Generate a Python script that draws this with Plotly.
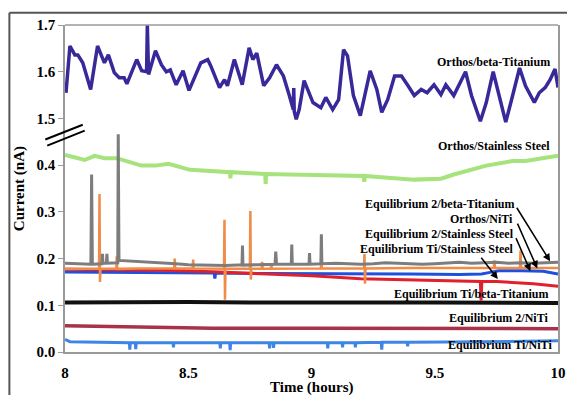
import plotly.graph_objects as go

# ---------------- data (time in hours, current in nA) ----------------
t_obt = [8.004, 8.020, 8.040, 8.052, 8.072, 8.104, 8.132, 8.160, 8.176, 8.200, 8.220, 8.240, 8.251,
         8.291, 8.311, 8.331, 8.334, 8.337, 8.339, 8.367, 8.391, 8.411, 8.427, 8.451, 8.479, 8.503,
         8.527, 8.551, 8.579, 8.591, 8.627, 8.647, 8.659, 8.687, 8.719, 8.747, 8.762, 8.778, 8.806,
         8.830, 8.858, 8.886, 8.910, 8.926, 8.928, 8.930, 8.938, 8.950, 8.970, 9.006, 9.038, 9.058,
         9.086, 9.110, 9.130, 9.146, 9.170, 9.198, 9.238, 9.265, 9.285, 9.309, 9.337, 9.365, 9.389,
         9.417, 9.445, 9.469, 9.497, 9.525, 9.545, 9.577, 9.625, 9.649, 9.685, 9.709, 9.737, 9.764,
         9.788, 9.816, 9.844, 9.868, 9.904, 9.924, 9.948, 9.968, 9.988, 10.0]
v_obt = [1.555, 1.655, 1.636, 1.636, 1.619, 1.562, 1.655, 1.619, 1.636, 1.598, 1.587, 1.587, 1.574,
         1.626, 1.602, 1.600, 1.700, 1.598, 1.594, 1.645, 1.615, 1.600, 1.604, 1.572, 1.602, 1.560,
         1.591, 1.619, 1.626, 1.613, 1.566, 1.583, 1.570, 1.626, 1.572, 1.651, 1.626, 1.640, 1.570,
         1.587, 1.615, 1.591, 1.549, 1.519, 1.565, 1.515, 1.498, 1.519, 1.581, 1.534, 1.523, 1.545,
         1.519, 1.540, 1.647, 1.634, 1.549, 1.506, 1.602, 1.562, 1.513, 1.540, 1.591, 1.591, 1.572,
         1.549, 1.562, 1.555, 1.572, 1.551, 1.572, 1.549, 1.600, 1.549, 1.494, 1.534, 1.600, 1.540,
         1.492, 1.549, 1.608, 1.570, 1.534, 1.555, 1.566, 1.583, 1.606, 1.566]

t_oss = [8.000, 8.080, 8.120, 8.160, 8.210, 8.310, 8.367, 8.420, 8.507, 8.647, 8.669, 8.671, 8.673,
         8.778, 8.812, 8.814, 8.816, 8.910, 9.178, 9.212, 9.214, 9.216, 9.309, 9.417, 9.525, 9.577,
         9.709, 9.816, 9.868, 10.000]
v_oss = [0.422, 0.411, 0.420, 0.415, 0.415, 0.399, 0.399, 0.403, 0.390, 0.386, 0.385, 0.372, 0.385,
         0.382, 0.381, 0.360, 0.381, 0.380, 0.378, 0.377, 0.364, 0.377, 0.373, 0.369, 0.371, 0.380,
         0.399, 0.409, 0.409, 0.420]

t_e2bt = [8.000, 8.050, 8.105, 8.108, 8.111, 8.150, 8.152, 8.154, 8.168, 8.170, 8.172, 8.214, 8.216,
          8.219, 8.260, 8.300, 8.350, 8.400, 8.450, 8.500, 8.550, 8.600, 8.650, 8.700, 8.718, 8.720,
          8.722, 8.780, 8.852, 8.855, 8.858, 8.918, 8.920, 8.922, 8.990, 8.992, 8.994, 9.038, 9.040,
          9.042, 9.100, 9.150, 9.200, 9.250, 9.300, 9.350, 9.400, 9.450, 9.500, 9.550, 9.600, 9.650,
          9.700, 9.750, 9.800, 9.850, 9.900, 9.950, 10.000]
v_e2bt = [0.190, 0.189, 0.188, 0.380, 0.188, 0.189, 0.210, 0.190, 0.190, 0.210, 0.190, 0.191, 0.466,
          0.196, 0.195, 0.194, 0.193, 0.191, 0.189, 0.187, 0.186, 0.186, 0.185, 0.186, 0.186, 0.228,
          0.186, 0.187, 0.188, 0.215, 0.188, 0.188, 0.230, 0.188, 0.188, 0.212, 0.188, 0.189, 0.252,
          0.189, 0.190, 0.189, 0.188, 0.189, 0.191, 0.190, 0.189, 0.188, 0.189, 0.191, 0.192, 0.190,
          0.191, 0.192, 0.190, 0.191, 0.190, 0.191, 0.192]

t_onti = [8.000, 8.138, 8.140, 8.142, 8.144, 8.208, 8.210, 8.212, 8.300, 8.443, 8.445, 8.447, 8.518,
          8.520, 8.522, 8.645, 8.647, 8.649, 8.651, 8.750, 8.752, 8.754, 8.756, 8.798, 8.800, 8.802,
          8.835, 8.837, 8.839, 9.038, 9.040, 9.042, 9.213, 9.215, 9.217, 9.219, 9.400, 9.740, 9.742,
          9.744, 9.846, 9.848, 9.850, 10.000]
v_onti = [0.178, 0.178, 0.338, 0.150, 0.178, 0.178, 0.205, 0.178, 0.179, 0.179, 0.200, 0.179, 0.179,
          0.198, 0.179, 0.178, 0.283, 0.112, 0.178, 0.178, 0.302, 0.155, 0.178, 0.178, 0.193, 0.178,
          0.178, 0.190, 0.178, 0.179, 0.200, 0.179, 0.179, 0.210, 0.146, 0.179, 0.180, 0.180, 0.196,
          0.180, 0.180, 0.217, 0.180, 0.180]

t_e2ss = [8.000, 8.200, 8.400, 8.605, 8.608, 8.611, 8.800, 9.000, 9.200, 9.400, 9.600, 9.690, 9.730,
          9.760, 9.850, 9.940, 10.000]
v_e2ss = [0.171, 0.170, 0.169, 0.169, 0.157, 0.169, 0.168, 0.168, 0.167, 0.167, 0.166, 0.167, 0.171,
          0.174, 0.174, 0.173, 0.167]

t_etiss = [8.000, 8.400, 8.600, 8.800, 9.000, 9.200, 9.400, 9.600, 9.685, 9.688, 9.691, 9.750, 9.900,
           10.000]
v_etiss = [0.177, 0.175, 0.172, 0.168, 0.163, 0.157, 0.154, 0.152, 0.151, 0.110, 0.151, 0.151, 0.146,
           0.141]

t_etibt = [8.000, 8.250, 8.500, 8.750, 9.000, 9.250, 9.500, 9.750, 10.000]
v_etibt = [0.106, 0.107, 0.107, 0.106, 0.107, 0.106, 0.106, 0.105, 0.105]

t_e2nt = [8.000, 8.300, 8.600, 9.000, 9.500, 10.000]
v_e2nt = [0.056, 0.054, 0.051, 0.051, 0.050, 0.050]

t_etint = [8.000, 8.020, 8.261, 8.263, 8.265, 8.285, 8.287, 8.289, 8.438, 8.440, 8.442, 8.628, 8.630,
           8.632, 8.668, 8.670, 8.672, 8.828, 8.830, 8.832, 8.844, 8.846, 8.848, 9.064, 9.066, 9.068,
           9.124, 9.126, 9.128, 9.176, 9.178, 9.180, 9.283, 9.285, 9.287, 9.388, 9.390, 9.392, 9.700,
           10.000]
v_etint = [0.027, 0.022, 0.020, 0.005, 0.020, 0.020, 0.006, 0.020, 0.020, 0.010, 0.020, 0.020, 0.008,
           0.020, 0.020, 0.004, 0.020, 0.020, 0.008, 0.020, 0.020, 0.009, 0.020, 0.020, 0.008, 0.020,
           0.020, 0.010, 0.020, 0.020, 0.010, 0.020, 0.021, 0.005, 0.021, 0.021, 0.012, 0.021, 0.022,
           0.024]

lower_ticks = [0.0, 0.1, 0.2, 0.3, 0.4]
upper_ticks = [1.5, 1.6, 1.7]
x_ticks = [8, 8.5, 9, 9.5, 10]
x_ticklabels = ["8", "8.5", "9", "9.5", "10"]

# ---------------- figure ----------------
FONT = "Liberation Serif, Times New Roman, serif"
fig = go.Figure()

def add(t, v, color, width, yax="y"):
    fig.add_trace(go.Scatter(x=t, y=v, mode="lines", xaxis="x", yaxis=yax,
                             line=dict(color=color, width=width), showlegend=False,
                             hoverinfo="skip"))

add(t_oss, v_oss, "#a6e37c", 4)
add(t_etint, v_etint, "#3d85e6", 3)
add(t_e2nt, v_e2nt, "#a8324a", 3.5)
add(t_etibt, v_etibt, "#111111", 4)
add(t_e2ss, v_e2ss, "#1f4fdd", 3)
add(t_etiss, v_etiss, "#e0202c", 3)
add(t_onti, v_onti, "#f08c48", 2.5)
add(t_e2bt, v_e2bt, "#7d7d7d", 3)
add(t_obt, v_obt, "#38299a", 3.5, "y2")

# The page body has an 8px default margin, so the figure is 8px smaller than
# the 575x395 window and its margins are shifted accordingly.
split = 0.47 / 0.70
axis_col = "#9a9a9a"
fig.update_layout(
    width=567, height=387,
    margin=dict(l=57, r=9, t=13, b=43),
    paper_bgcolor="white", plot_bgcolor="rgba(0,0,0,0)",
    font=dict(family=FONT, color="black"),
    xaxis=dict(range=[8, 10], tickvals=x_ticks, ticktext=x_ticklabels,
               showgrid=False, zeroline=False, showline=True, linecolor=axis_col, linewidth=1.5,
               ticks="", ticklabelstandoff=6,
               tickfont=dict(family=FONT, size=15, color="black", weight="bold")),
    yaxis=dict(range=[0, 0.47], domain=[0, split], tickvals=lower_ticks, tickformat=".1f",
               showgrid=False, zeroline=False, showline=True, linecolor=axis_col, linewidth=1.5,
               mirror=True, ticks="outside", ticklen=5, tickcolor=axis_col,
               tickfont=dict(family=FONT, size=15, color="black", weight="bold")),
    yaxis2=dict(range=[1.47, 1.7], domain=[split, 1], tickvals=upper_ticks, tickformat=".1f",
                anchor="x", showgrid=False, zeroline=False, showline=True, linecolor=axis_col,
                linewidth=1.5, mirror=True, ticks="outside", ticklen=5, tickcolor=axis_col,
                tickfont=dict(family=FONT, size=15, color="black", weight="bold")),
)

# frame top, axis break marks, outer border
fig.add_shape(type="line", xref="paper", yref="paper", x0=0, x1=1, y0=1, y1=1,
              line=dict(color=axis_col, width=1.5))
fig.add_shape(type="line", xref="paper", yref="paper", x0=-0.040, x1=0.036, y0=0.650, y1=0.695,
              line=dict(color="black", width=2))
fig.add_shape(type="line", xref="paper", yref="paper", x0=-0.036, x1=0.040, y0=0.631, y1=0.677,
              line=dict(color="black", width=2))
fig.add_shape(type="line", xref="paper", yref="paper", x0=-0.1128, x1=1.02, y0=1.0378, y1=1.0378,
              line=dict(color="#555555", width=2))
fig.add_shape(type="line", xref="paper", yref="paper", x0=-0.1128, x1=-0.1128, y0=1.0378, y1=-0.14,
              line=dict(color="#555555", width=2))

# axis titles
fig.add_annotation(text="Time (hours)", xref="paper", yref="paper", x=0.5, y=-0.108,
                   showarrow=False, yanchor="middle",
                   font=dict(family=FONT, size=15, color="black", weight="bold"))
fig.add_annotation(text="Current (nA)", xref="paper", yref="paper", x=-0.092, y=0.50,
                   showarrow=False, textangle=-90, xanchor="center", yanchor="middle",
                   font=dict(family=FONT, size=15, color="black", weight="bold"))

# series labels
lab_font = dict(family=FONT, size=12, color="black", weight="bold")
labels = [
    ("Orthos/beta-Titanium", 9.976, 1.621, "y2"),
    ("Orthos/Stainless Steel", 9.976, 0.442, "y"),
    ("Equilibrium 2/beta-Titanium", 9.828, 0.316, "y"),
    ("Orthos/NiTi", 9.826, 0.285, "y"),
    ("Equilibrium 2/Stainless Steel", 9.828, 0.253, "y"),
    ("Equilibrium Ti/Stainless Steel", 9.828, 0.221, "y"),
    ("Equilibrium Ti/beta-Titanium", 9.968, 0.124, "y"),
    ("Equilibrium 2/NiTi", 9.968, 0.072, "y"),
    ("Equilibrium Ti/NiTi", 9.984, 0.014, "y"),
]
for txt, x, y, yr in labels:
    fig.add_annotation(text=txt, x=x, y=y, xref="x", yref=yr, showarrow=False,
                       xanchor="right", yanchor="middle", font=lab_font)

arrows = [
    (9.829, 0.312, 9.968, 0.194),
    (9.833, 0.278, 9.916, 0.179),
    (9.827, 0.247, 9.888, 0.173),
    (9.684, 0.205, 9.756, 0.156),
]
for x0, y0, x1, y1 in arrows:
    fig.add_annotation(x=x1, y=y1, ax=x0, ay=y0, xref="x", yref="y", axref="x", ayref="y",
                       text="", showarrow=True, arrowhead=2, arrowsize=1, arrowwidth=1.5,
                       arrowcolor="black")

fig.write_html("out.html", config={"displayModeBar": False})
